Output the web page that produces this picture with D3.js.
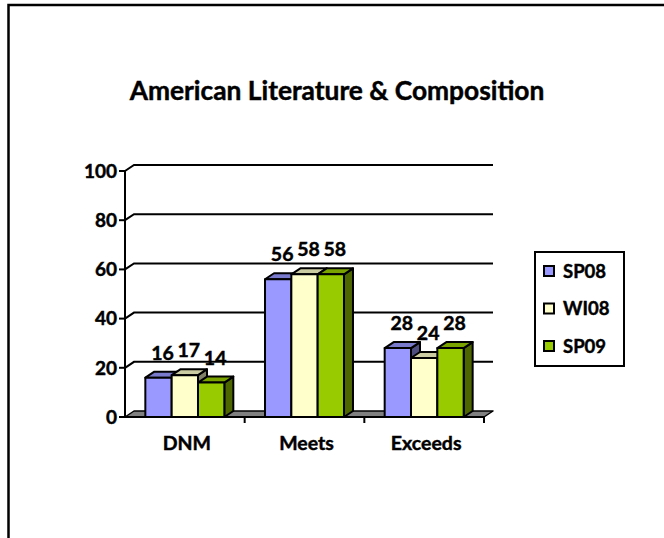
<!DOCTYPE html>
<html><head><meta charset="utf-8">
<script src="https://cdn.jsdelivr.net/npm/d3@7"></script>
<style>
html,body{margin:0;padding:0;background:#fff;}
svg{display:block;font-family:Lato,"Open Sans",sans-serif;font-weight:700;}
svg text{stroke:#000;stroke-width:0.45px;paint-order:stroke;fill:#000;}
</style></head>
<body>
<svg id="chart" width="664" height="538"></svg>
<script>
const title = "American Literature & Composition";
const categories = ["DNM", "Meets", "Exceeds"];
const seriesNames = ["SP08", "WI08", "SP09"];
const SP08 = [16, 56, 28];
const WI08 = [17, 58, 24];
const SP09 = [14, 58, 28];
const seriesValues = [SP08, WI08, SP09];
const yTicks = [0, 20, 40, 60, 80, 100];

const colors = ["#9999FF", "#FFFFCC", "#99CC00"];
const topColors = ["#7A7ACC", "#CCCCA3", "#7AA300"];
const sideColors = ["#4D4D80", "#808066", "#4D6600"];

const svg = d3.select("#chart");
// outer frame
svg.append("rect").attr("x", 8.5).attr("y", 5).attr("width", 700).attr("height", 600)
  .attr("fill", "none").attr("stroke", "#000").attr("stroke-width", 2.5);

const x0 = 125, x1 = 484;
const y = d3.scaleLinear().domain([0, 100]).range([417, 171]);
const xBand = d3.scaleBand().domain(categories).range([x0, x1]).paddingInner(0).paddingOuter(0);
const groupW = xBand.bandwidth() * 0.66;
const xInner = d3.scaleBand().domain(seriesNames).range([0, groupW]);
const dx = 9, dy = -6;     // wall depth
const bdx = 9, bdy = -6;   // bar depth

// title
const t = svg.append("text").attr("x", 337).attr("y", 100).attr("text-anchor", "middle")
  .attr("font-size", 22).text(title);
const tw = t.node().getComputedTextLength();
t.attr("font-size", 22 * 415 / tw);

// gridlines on back wall
const grid = svg.append("g");
yTicks.forEach(v => {
  if (v === 0) return;
  grid.append("path")
    .attr("d", `M${x0},${y(v)} L${x0+dx},${y(v)+dy} L${x1+dx},${y(v)+dy}`)
    .attr("fill", "none").attr("stroke", "#000").attr("stroke-width", 2);
});

// floor
svg.append("path")
  .attr("d", `M${x0},${y(0)} L${x1},${y(0)} L${x1+dx},${y(0)+dy} L${x0+dx},${y(0)+dy} Z`)
  .attr("fill", "#808080").attr("stroke", "#000").attr("stroke-width", 1.5).attr("stroke-linejoin", "round");

// bars
const bars = svg.append("g");
categories.forEach((c, ci) => {
  seriesNames.forEach((s, si) => {
    const v = seriesValues[si][ci];
    const bx = xBand(c) + (xBand.bandwidth() - groupW) / 2 + xInner(s);
    const bw = xInner.bandwidth();
    const top = y(v), base = y(0);
    const g = bars.append("g").attr("stroke", "#000").attr("stroke-width", 2).attr("stroke-linejoin", "round");
    g.append("path").attr("fill", sideColors[si])
      .attr("d", `M${bx+bw},${base} L${bx+bw+bdx},${base+bdy} L${bx+bw+bdx},${top+bdy} L${bx+bw},${top} Z`);
    g.append("path").attr("fill", topColors[si])
      .attr("d", `M${bx},${top} L${bx+bdx},${top+bdy} L${bx+bw+bdx},${top+bdy} L${bx+bw},${top} Z`);
    g.append("rect").attr("fill", colors[si])
      .attr("x", bx).attr("y", top).attr("width", bw).attr("height", base - top);
  });
});

// x axis
const xa = svg.append("g");
xa.append("line").attr("x1", x0).attr("x2", x1).attr("y1", y(0)).attr("y2", y(0))
  .attr("stroke", "#000").attr("stroke-width", 2);
categories.concat(["_end"]).forEach((c, i) => {
  const xx = i < categories.length ? xBand(c) : x1;
  if (i === 0) return;
  xa.append("line").attr("x1", xx).attr("x2", xx).attr("y1", y(0)).attr("y2", y(0) + 6)
    .attr("stroke", "#000").attr("stroke-width", 2);
});
categories.forEach(c => {
  xa.append("text").attr("x", xBand(c) + xBand.bandwidth() / 2 + 2).attr("y", 450)
    .attr("text-anchor", "middle").attr("font-size", 19.5).text(c);
});

// y axis
const ya = svg.append("g");
ya.append("line").attr("x1", x0).attr("x2", x0).attr("y1", y(0)).attr("y2", y(100))
  .attr("stroke", "#000").attr("stroke-width", 2);
yTicks.forEach(v => {
  ya.append("line").attr("x1", x0 - 6).attr("x2", x0).attr("y1", y(v)).attr("y2", y(v))
    .attr("stroke", "#000").attr("stroke-width", 2);
  ya.append("text").attr("x", x0 - 8).attr("y", y(v)).attr("dy", "0.36em")
    .attr("text-anchor", "end").attr("font-size", 19).text(v);
});

// value labels
categories.forEach((c, ci) => {
  seriesNames.forEach((s, si) => {
    const v = seriesValues[si][ci];
    const bx = xBand(c) + (xBand.bandwidth() - groupW) / 2 + xInner(s);
    svg.append("text").attr("x", bx + xInner.bandwidth() / 2 + 4).attr("y", y(v) - 18)
      .attr("text-anchor", "middle").attr("font-size", 19.5).text(v);
  });
});

// legend
const lg = svg.append("g");
lg.append("rect").attr("x", 535).attr("y", 252).attr("width", 89).attr("height", 114)
  .attr("fill", "#fff").attr("stroke", "#000").attr("stroke-width", 2);
seriesNames.forEach((s, si) => {
  const cy = 271 + si * 37.5;
  lg.append("rect").attr("x", 544).attr("y", cy - 5).attr("width", 10).attr("height", 10)
    .attr("fill", colors[si]).attr("stroke", "#000").attr("stroke-width", 2);
  lg.append("text").attr("x", 563).attr("y", cy).attr("dy", "0.36em").attr("font-size", 18.5).text(s);
});
</script>
</body></html>
